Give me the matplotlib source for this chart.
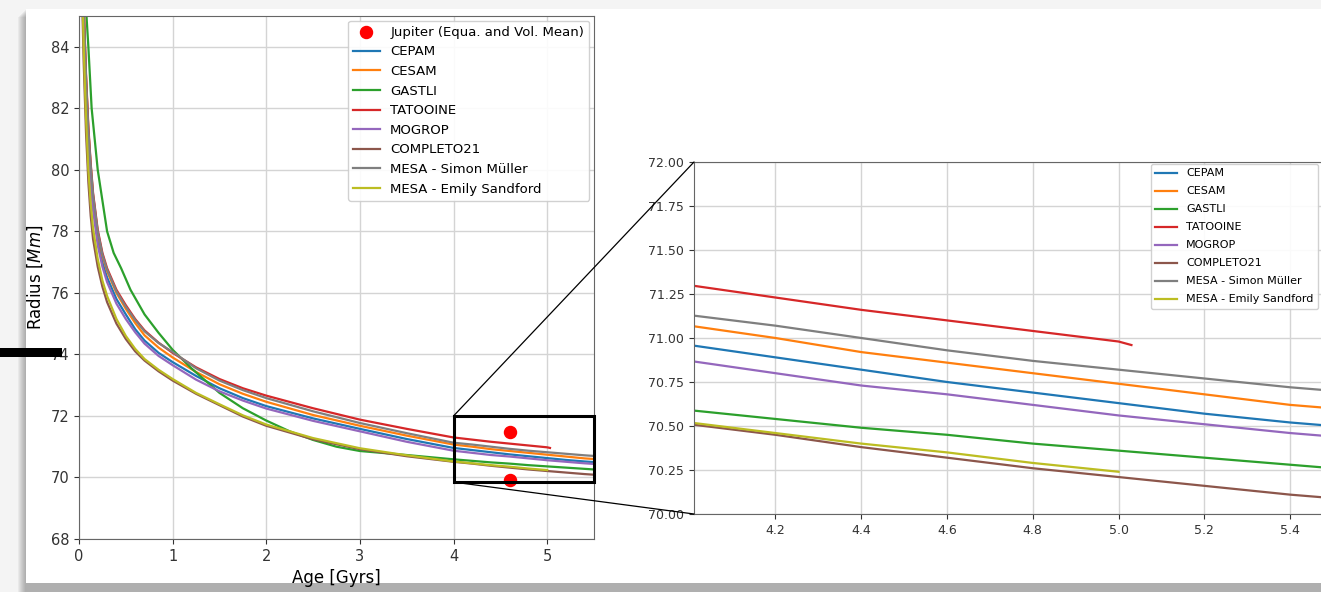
import numpy as np
import matplotlib
matplotlib.use("Agg")
import matplotlib.pyplot as plt
from matplotlib.patches import Rectangle, ConnectionPatch

# ages [Gyrs]
age = [0.03, 0.05, 0.075, 0.1, 0.125, 0.15, 0.2, 0.25, 0.3, 0.4, 0.5, 0.6, 0.7, 0.85, 1.0,
       1.25, 1.5, 1.75, 2.0, 2.5, 3.0, 3.5, 4.0, 4.2, 4.4, 4.6, 4.8, 5.0, 5.2, 5.4, 5.5]
age_gastli = [0.03, 0.06, 0.08, 0.1, 0.135, 0.2, 0.3, 0.37, 0.45, 0.55, 0.7, 0.85, 1.0, 1.2,
              1.5, 1.75, 2.0, 2.25, 2.5, 2.75, 3.0, 3.5, 4.0, 4.2, 4.4, 4.6, 4.8, 5.0, 5.2,
              5.4, 5.5]
age_tatooine = age[:28] + [5.03]
age_emily = age[:28]

# radius [Mm]
r_cepam = [88.0, 85.0, 82.7, 81.0, 79.8, 78.9, 77.75, 77.0, 76.5, 75.8, 75.3, 74.82, 74.45,
           74.05, 73.75, 73.3, 72.9, 72.58, 72.32, 71.92, 71.58, 71.25, 70.96, 70.89, 70.82,
           70.75, 70.69, 70.63, 70.57, 70.52, 70.50]
r_cesam = [88.5, 85.3, 83.0, 81.3, 80.1, 79.15, 77.95, 77.2, 76.7, 76.0, 75.48, 75.02, 74.62,
           74.22, 73.9, 73.43, 73.03, 72.72, 72.46, 72.03, 71.68, 71.36, 71.07, 71.00, 70.92,
           70.86, 70.80, 70.74, 70.68, 70.62, 70.60]
r_gastli = [90.0, 86.5, 85.0, 84.0, 82.0, 80.0, 78.0, 77.3, 76.8, 76.1, 75.3, 74.7, 74.15,
            73.55, 72.75, 72.25, 71.85, 71.5, 71.22, 71.0, 70.86, 70.73, 70.59, 70.54, 70.49,
            70.45, 70.40, 70.36, 70.32, 70.28, 70.26]
r_tatooine = [88.6, 85.4, 83.1, 81.4, 80.2, 79.25, 78.05, 77.3, 76.8, 76.1, 75.6, 75.15,
              74.78, 74.38, 74.05, 73.58, 73.2, 72.9, 72.66, 72.25, 71.88, 71.58, 71.30,
              71.23, 71.16, 71.10, 71.04, 70.98, 70.96]
r_mogrop = [87.6, 84.8, 82.5, 80.8, 79.6, 78.7, 77.55, 76.85, 76.35, 75.65, 75.15, 74.72,
            74.35, 73.95, 73.65, 73.18, 72.8, 72.5, 72.24, 71.84, 71.50, 71.16, 70.87, 70.80,
            70.73, 70.68, 70.62, 70.56, 70.51, 70.46, 70.44]
r_completo = [86.0, 83.5, 81.2, 79.6, 78.5, 77.75, 76.85, 76.2, 75.7, 75.0, 74.5, 74.1, 73.8,
              73.45, 73.15, 72.72, 72.35, 71.98, 71.68, 71.24, 70.92, 70.69, 70.51, 70.45,
              70.38, 70.32, 70.26, 70.21, 70.16, 70.11, 70.09]
r_mesa_sm = [88.2, 85.2, 83.0, 81.3, 80.15, 79.2, 78.0, 77.25, 76.75, 76.05, 75.55, 75.12,
             74.75, 74.37, 74.08, 73.55, 73.15, 72.84, 72.58, 72.15, 71.77, 71.44, 71.13,
             71.07, 71.00, 70.93, 70.87, 70.82, 70.77, 70.72, 70.70]
r_mesa_es = [86.5, 84.0, 81.7, 80.0, 78.9, 78.1, 77.1, 76.4, 75.9, 75.15, 74.6, 74.18, 73.85,
             73.5, 73.2, 72.75, 72.38, 72.02, 71.72, 71.28, 70.95, 70.72, 70.52, 70.46,
             70.40, 70.35, 70.29, 70.24]

jup_age = [4.6, 4.6]
jup_r = [71.49, 69.91]

models = [
    ("CEPAM", age, r_cepam, "tab:blue"),
    ("CESAM", age, r_cesam, "tab:orange"),
    ("GASTLI", age_gastli, r_gastli, "tab:green"),
    ("TATOOINE", age_tatooine, r_tatooine, "tab:red"),
    ("MOGROP", age, r_mogrop, "tab:purple"),
    ("COMPLETO21", age, r_completo, "tab:brown"),
    ("MESA - Simon Müller", age, r_mesa_sm, "tab:gray"),
    ("MESA - Emily Sandford", age_emily, r_mesa_es, "tab:olive"),
]

W, H = 1321, 592
fig = plt.figure(figsize=(W / 100, H / 100), dpi=100)
fig.patch.set_facecolor("#f4f4f4")

# screenshot-like panel with a soft shadow (left and bottom)
for k in range(8):
    fig.add_artist(Rectangle(((26 - 8 + k) / W, 0.0), 1.0, 1 - (9 + 8 - k) / H,
                             transform=fig.transFigure, facecolor="#606060",
                             alpha=0.07, edgecolor="none", zorder=-3))
fig.add_artist(Rectangle((26 / W, 9 / H), 1.0, 1 - 18 / H, transform=fig.transFigure,
                         facecolor="white", edgecolor="none", zorder=-2))
fig.add_artist(Rectangle((0, 1 - 357 / H), 62 / W, 9 / H, transform=fig.transFigure,
                         facecolor="black", edgecolor="none", zorder=5))

ax = fig.add_axes([79 / W, 1 - 539 / H, (594 - 79) / W, (539 - 16) / H])
ax.scatter(jup_age, jup_r, s=75, color="red", label="Jupiter (Equa. and Vol. Mean)", zorder=3)
for name, a, r, c in models:
    ax.plot(a, r, color=c, lw=1.6, label=name)
ax.set_xlim(0, 5.5)
ax.set_ylim(68, 85)
ax.set_xticks(range(0, 6))
ax.set_yticks(range(68, 85, 2))
ax.grid(True, color="#d4d4d4", lw=1)
ax.tick_params(labelsize=10.5, colors="#333333")
for s in ax.spines.values():
    s.set_color("#666666")
ax.set_xlabel("Age [Gyrs]", fontsize=12)
ax.set_ylabel("Radius [$Mm$]", fontsize=12)
ax.legend(loc="upper right", fontsize=9.5, labelspacing=0.5, borderaxespad=0.35,
          framealpha=0.9)

ax.add_patch(Rectangle((4.0, 69.85), 1.5, 2.15, fill=False, edgecolor="black", lw=2.2,
                       zorder=4, clip_on=False))

axins = fig.add_axes([694 / W, 1 - 514 / H, (1333 - 694) / W, (514 - 162) / H])
for name, a, r, c in models:
    axins.plot(a, r, color=c, lw=1.6, label=name)
axins.set_xlim(4.01, 5.5)
axins.set_ylim(70.0, 72.0)
axins.set_xticks([4.2, 4.4, 4.6, 4.8, 5.0, 5.2, 5.4])
axins.set_yticks(np.arange(70.0, 72.01, 0.25))
axins.yaxis.set_major_formatter(matplotlib.ticker.FormatStrFormatter("%.2f"))
axins.grid(True, color="#d4d4d4", lw=1)
axins.tick_params(labelsize=9, colors="#333333")
for s in axins.spines.values():
    s.set_color("#666666")
axins.legend(loc="upper right", bbox_to_anchor=(1318 / W, 1 - 164 / H),
             bbox_transform=fig.transFigure, fontsize=8, labelspacing=0.72,
             borderaxespad=0.0, framealpha=0.9)

for yA, yB in [(72.0, 72.0), (69.85, 70.0)]:
    con = ConnectionPatch(xyA=(4.0, yA), coordsA=ax.transData,
                          xyB=(4.01, yB), coordsB=axins.transData,
                          color="black", lw=0.9)
    fig.add_artist(con)

fig.savefig("out.png", dpi=100, facecolor=fig.get_facecolor())
